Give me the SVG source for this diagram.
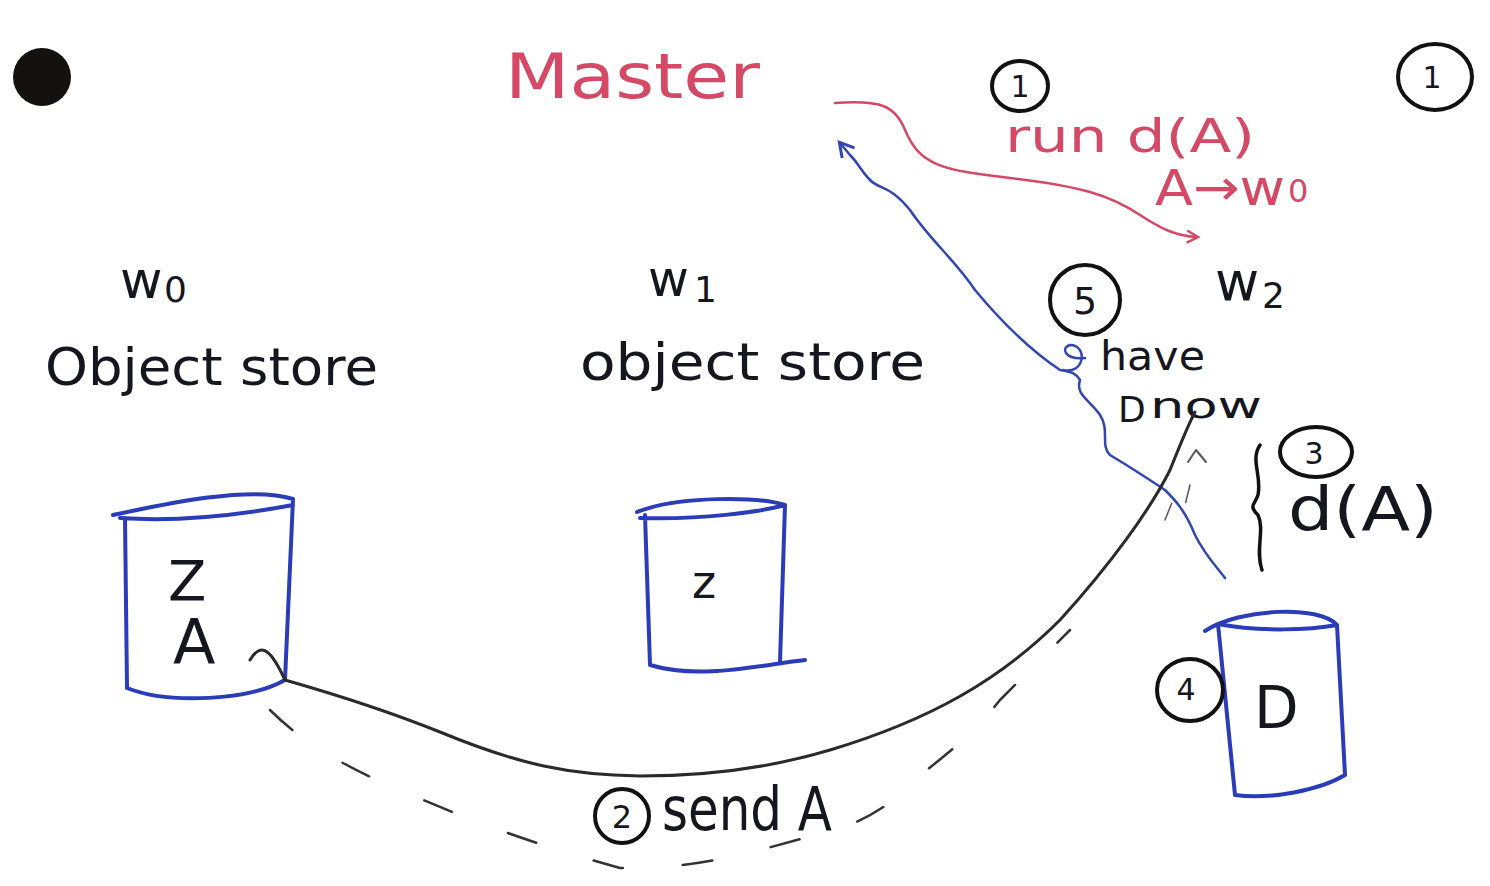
<svg xmlns="http://www.w3.org/2000/svg" width="1490" height="886" viewBox="0 0 1490 886">
<style>
.ink{fill:#16161e;font-family:"DejaVu Sans","Liberation Sans",sans-serif}
.red{fill:#d44a66;font-family:"DejaVu Sans","Liberation Sans",sans-serif}
.cyl{fill:none;stroke:#2a3cb8;stroke-width:4;stroke-linejoin:round;stroke-linecap:round}
.circ{fill:none;stroke:#111;stroke-width:4}
.wire{fill:none;stroke-linecap:round;stroke-linejoin:round}
</style>
<defs>
<marker id="redArrow" markerWidth="14" markerHeight="14" refX="11" refY="7" orient="auto" markerUnits="userSpaceOnUse">
<path d="M1,1 L12,7 L1,13" fill="none" stroke="#d44a66" stroke-width="2.5"/>
</marker>
<marker id="blueArrow" markerWidth="18" markerHeight="18" refX="14" refY="9" orient="auto" markerUnits="userSpaceOnUse">
<path d="M1,1 L15,9 L1,17" fill="none" stroke="#3046b0" stroke-width="3"/>
</marker>
</defs>
<rect width="1490" height="886" fill="#ffffff"/>

<circle cx="42" cy="77" r="29" fill="#141210"/>

<g id="master">
<text class="red" x="505" y="98" font-size="62" textLength="255" lengthAdjust="spacingAndGlyphs">Master</text>
</g>

<g id="step1">
<ellipse class="circ" cx="1020" cy="86" rx="28" ry="25"/>
<text class="ink" x="1020" y="97" font-size="30" text-anchor="middle">1</text>
<text class="red" x="1005" y="152" font-size="46" textLength="250" lengthAdjust="spacingAndGlyphs">run d(A)</text>
<text class="red" x="1155" y="205" font-size="50" textLength="130" lengthAdjust="spacingAndGlyphs">A→w</text>
<text class="red" x="1288" y="202" font-size="32">0</text>
</g>

<g id="step1b">
<ellipse class="circ" cx="1435" cy="77" rx="37" ry="33"/>
<text class="ink" x="1432" y="88" font-size="30" text-anchor="middle">1</text>
</g>

<g id="w0">
<text class="ink" x="120" y="298" font-size="52">w</text>
<text class="ink" x="164" y="302" font-size="36">0</text>
<text class="ink" x="45" y="385" font-size="52" textLength="333" lengthAdjust="spacingAndGlyphs">Object store</text>
<path class="cyl" d="M113,515 C160,505 250,485 293,499 M120,518 C180,522 240,515 293,505 M125,518 L127,688 M293,499 L285,680 M127,688 C170,705 250,700 285,680"/>
<text class="ink" x="168" y="600" font-size="56">Z</text>
<text class="ink" x="173" y="664" font-size="62">A</text>
</g>

<g id="w1">
<text class="ink" x="648" y="296" font-size="50">w</text>
<text class="ink" x="694" y="302" font-size="36">1</text>
<text class="ink" x="580" y="380" font-size="52" textLength="345" lengthAdjust="spacingAndGlyphs">object store</text>
<path class="cyl" d="M637,512 C680,495 760,497 785,505 M640,518 C700,520 760,512 785,505 M645,515 L650,665 M785,505 L780,662 M650,665 C700,680 760,665 805,660"/>
<text class="ink" x="692" y="598" font-size="46">z</text>
</g>

<g id="w2">
<text class="ink" x="1215" y="300" font-size="54">w</text>
<text class="ink" x="1262" y="308" font-size="36">2</text>
<path class="cyl" d="M1205,631 C1240,608 1320,605 1337,625 M1218,624 C1260,632 1310,630 1337,625 M1218,624 L1235,795 M1337,625 L1345,775 M1235,795 C1270,800 1320,790 1345,775"/>
<text class="ink" x="1254" y="728" font-size="58">D</text>
</g>

<g id="step2">
<circle class="circ" cx="622" cy="816" r="27"/>
<text class="ink" x="622" y="828" font-size="32" text-anchor="middle">2</text>
<text class="ink" x="662" y="830" font-size="60" textLength="170" lengthAdjust="spacingAndGlyphs">send A</text>
</g>

<g id="step3">
<ellipse class="circ" cx="1316" cy="452" rx="36" ry="25"/>
<text class="ink" x="1314" y="464" font-size="30" text-anchor="middle">3</text>
<path class="wire" stroke="#111" stroke-width="3.5" d="M1260,445 C1250,460 1262,475 1258,495 C1255,505 1248,505 1258,515 C1265,530 1255,550 1262,570"/>
<text class="ink" x="1288" y="530" font-size="60" textLength="150" lengthAdjust="spacingAndGlyphs">d(A)</text>
</g>

<g id="step4">
<ellipse class="circ" cx="1190" cy="690" rx="33" ry="31"/>
<text class="ink" x="1186" y="700" font-size="30" text-anchor="middle">4</text>
</g>

<g id="step5">
<circle class="circ" cx="1085" cy="300" r="35"/>
<text class="ink" x="1085" y="314" font-size="38" text-anchor="middle">5</text>
<text class="ink" x="1100" y="370" font-size="40" textLength="105" lengthAdjust="spacingAndGlyphs">have</text>
<text class="ink" x="1118" y="422" font-size="36">D</text>
<text class="ink" x="1150" y="418" font-size="36" textLength="112" lengthAdjust="spacingAndGlyphs">now</text>
</g>

<g id="connectors">
<path class="wire" stroke="#d44a66" stroke-width="2.5" marker-end="url(#redArrow)" d="M835,103 C880,100 895,105 905,130 C920,165 940,170 1010,178 C1080,186 1110,195 1140,215 C1160,228 1175,236 1197,237"/>
<path class="wire" stroke="#3046b0" stroke-width="2.5" marker-end="url(#blueArrow)" d="M1225,578 C1215,565 1205,555 1195,535 C1185,510 1175,500 1165,490 C1150,480 1135,470 1110,455 C1100,445 1110,430 1100,415 C1090,400 1075,395 1080,380 C1075,372 1070,372 1060,370 C1030,350 1000,320 975,290 C955,260 930,240 910,210 C890,185 880,190 870,180 C860,170 860,165 850,155 L840,143"/>
<path class="wire" stroke="#3046b0" stroke-width="2.5" d="M1063,370 C1085,375 1088,345 1070,345 C1060,348 1065,360 1085,358"/>
<path class="wire" stroke="#2a2a2a" stroke-width="3" d="M250,660 C262,640 272,652 285,680 C320,690 380,708 440,732 C520,765 570,775 640,776 C720,776 780,765 830,750 C930,720 1000,680 1060,620 C1110,565 1150,510 1170,470 C1180,445 1188,425 1195,412"/>
<path class="wire" stroke="#555" stroke-width="2" d="M1188,462 L1196,450 L1206,462"/>
<path class="wire" stroke="#333" stroke-width="2.5" stroke-dasharray="30 60" d="M270,710 C300,740 340,765 400,790 C470,820 520,840 620,868 C700,870 760,850 840,828 C880,815 900,795 920,775 C960,745 980,725 1000,700 C1030,670 1050,650 1070,630"/>
<path class="wire" stroke="#555" stroke-width="1.5" stroke-dasharray="18 20" d="M1165,520 L1175,495 M1190,485 L1185,505"/>
</g>
</svg>
